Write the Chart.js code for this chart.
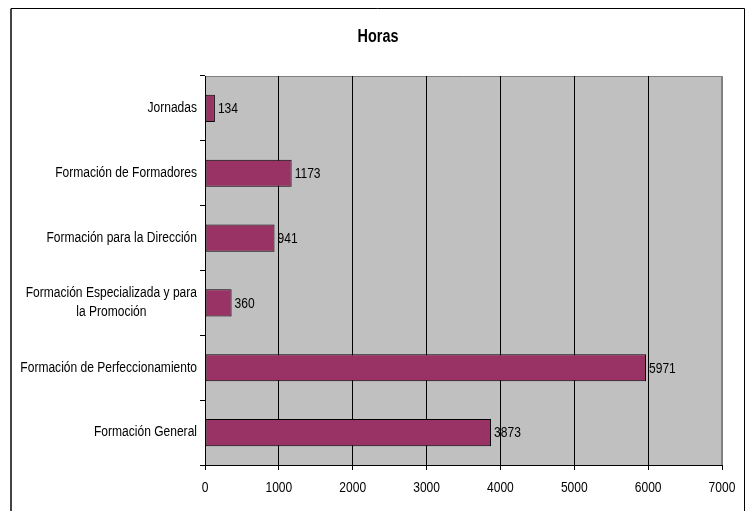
<!DOCTYPE html>
<html>
<head>
<meta charset="utf-8">
<script src="https://cdn.jsdelivr.net/npm/chart.js@4/dist/chart.umd.min.js"></script>
<style>
    body { margin: 0; background: #fff; }
    #wrap { width: 750px; height: 511px; }
</style>
</head>
<body>
<div id="wrap"><canvas id="horasChart" width="750" height="511"></canvas></div>
<script>
// Data (top to bottom)
const categories = [
    ['Jornadas'],
    ['Formación de Formadores'],
    ['Formación para la Dirección'],
    ['Formación Especializada y para', 'la Promoción'],
    ['Formación de Perfeccionamiento'],
    ['Formación General']
];
const horas = [134, 1173, 941, 360, 5971, 3873];
const xTicks = [0, 1000, 2000, 3000, 4000, 5000, 6000, 7000];

const FONT = '"Liberation Sans", Arial, sans-serif';
const SQUEEZE = 0.86; // reference text is narrow and tall

// draw text squeezed horizontally around x
function narrowText(ctx, text, x, y) {
    ctx.save();
    ctx.translate(x, y);
    ctx.scale(SQUEEZE, 1);
    ctx.fillText(text, 0, 0);
    ctx.restore();
}

// Frame, plot background, title, axis labels and value labels
const excelLook = {
    id: 'excelLook',
    beforeDraw(chart) {
        const { ctx, chartArea: a } = chart;
        ctx.save();
        // outer frame
        ctx.strokeStyle = '#000';
        ctx.lineWidth = 1;
        ctx.beginPath();
        ctx.moveTo(11, 520);
        ctx.lineTo(11, 8.5);
        ctx.lineTo(744.5, 8.5);
        ctx.lineTo(744.5, 520);
        ctx.stroke();
        ctx.strokeStyle = '#444';
        ctx.lineWidth = 2;
        ctx.beginPath();
        ctx.moveTo(11, 520);
        ctx.lineTo(11, 9);
        ctx.stroke();
        // plot area
        ctx.fillStyle = '#C0C0C0';
        ctx.fillRect(a.left, a.top, a.right - a.left, a.bottom - a.top);
        ctx.strokeStyle = '#808080';
        ctx.lineWidth = 1;
        ctx.beginPath();
        ctx.moveTo(a.left, a.top + 0.5);
        ctx.lineTo(a.right - 0.5, a.top + 0.5);
        ctx.lineTo(a.right - 0.5, a.bottom);
        ctx.stroke();
        // title
        ctx.fillStyle = '#000';
        ctx.font = 'bold 18px ' + FONT;
        ctx.textAlign = 'center';
        ctx.textBaseline = 'middle';
        ctx.save();
        ctx.translate(378, 37);
        ctx.scale(0.8, 1);
        ctx.fillText('Horas', 0, 0);
        ctx.restore();
        ctx.restore();
    },
    afterDatasetsDraw(chart) {
        const { ctx } = chart;
        const yScale = chart.scales.y;
        const xScale = chart.scales.x;
        ctx.save();
        ctx.fillStyle = '#000';
        ctx.font = '14px ' + FONT;
        ctx.textBaseline = 'middle';
        // category labels, lines centred on each other, block right-aligned
        ctx.textAlign = 'center';
        categories.forEach((lines, i) => {
            const yc = yScale.getPixelForTick(i);
            const maxW = Math.max(...lines.map(l => ctx.measureText(l).width)) * SQUEEZE;
            const lh = 19;
            const y0 = yc - (lines.length - 1) * lh / 2;
            lines.forEach((l, j) => {
                narrowText(ctx, l, 197 - maxW / 2, y0 + j * lh);
            });
        });
        // x tick labels
        xTicks.forEach(v => {
            narrowText(ctx, String(v), xScale.getPixelForValue(v), 488);
        });
        // value labels
        ctx.textAlign = 'left';
        chart.getDatasetMeta(0).data.forEach((bar, i) => {
            narrowText(ctx, String(horas[i]), bar.x + 3, bar.y + 1);
        });
        ctx.restore();
    }
};

const ctx = document.getElementById('horasChart').getContext('2d');
new Chart(ctx, {
    type: 'bar',
    data: {
        labels: categories.map(c => c.join(' ')),
        datasets: [{
            data: horas,
            backgroundColor: '#993366',
            borderColor: '#000',
            borderWidth: 1,
            borderSkipped: false,
            barPercentage: 0.42,
            categoryPercentage: 1
        }]
    },
    options: {
        indexAxis: 'y',
        responsive: false,
        animation: false,
        layout: { padding: { top: 76, right: 28, left: 0, bottom: 0 } },
        plugins: {
            legend: { display: false },
            title: { display: false },
            tooltip: { enabled: false }
        },
        scales: {
            x: {
                min: 0,
                max: 7000,
                afterBuildTicks: scale => { scale.ticks = xTicks.map(v => ({ value: v })); },
                afterFit: scale => { scale.height = 46; },
                border: { color: '#000', width: 1 },
                grid: {
                    color: c => (c.index === xTicks.length - 1 ? '#808080' : '#000'),
                    tickColor: '#000',
                    tickLength: 5,
                    lineWidth: 1
                },
                ticks: { display: false }
            },
            y: {
                afterFit: scale => { scale.width = 205; },
                border: { color: '#000', width: 1 },
                grid: {
                    offset: true,
                    drawOnChartArea: false,
                    color: '#000',
                    tickLength: 5
                },
                ticks: { display: false }
            }
        }
    },
    plugins: [excelLook]
});
</script>
</body>
</html>
